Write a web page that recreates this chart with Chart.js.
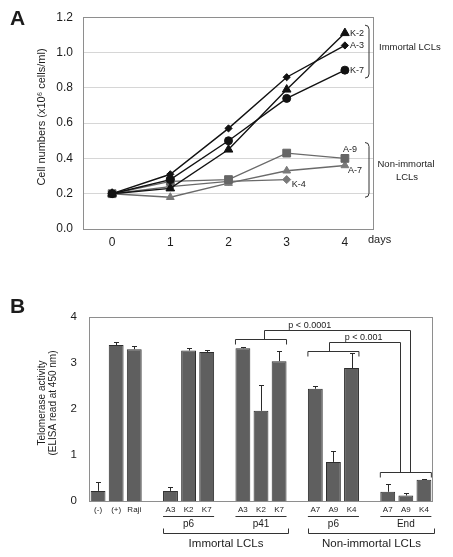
<!DOCTYPE html>
<html><head><meta charset="utf-8">
<script src="https://cdn.jsdelivr.net/npm/chart.js@4.4.0/dist/chart.umd.min.js"></script>
<style>
html,body{margin:0;padding:0;background:#fff;}
#wrap{position:relative;width:453px;height:557px;overflow:hidden;background:#fff;}
canvas{position:absolute;left:0;}
#ca{top:0;}
#cb{top:270px;}
</style></head><body>
<div id="wrap"><canvas id="ca" width="453" height="265"></canvas><canvas id="cb" width="453" height="287"></canvas></div>
<script>
// ---------- Panel A data ----------
const days = ['0', '1', '2', '3', '4'];
const seriesNames = ['K-2', 'A-3', 'K-7', 'A-9', 'A-7', 'K-4'];
const k2 = [0.20, 0.23, 0.45, 0.79, 1.11];
const a3 = [0.20, 0.31, 0.57, 0.86, 1.04];
const k7 = [0.20, 0.28, 0.50, 0.74, 0.90];
const a9 = [0.20, 0.27, 0.28, 0.43, 0.40];
const a7 = [0.20, 0.18, 0.26, 0.33, 0.36];
const k4 = [0.20, 0.24, 0.27, 0.28, null];
const groupNamesA = ['Immortal LCLs', 'Non-immortal LCLs'];
const groupRangeImmortalA = [0.855, 1.155];
const groupRangeNonImmortalA = [0.18, 0.49];

// ---------- Panel B data ----------
const sampleLabels = ['(-)', '(+)', 'Raji', '', 'A3', 'K2', 'K7', '', 'A3', 'K2', 'K7', '', 'A7', 'A9', 'K4', '', 'A7', 'A9', 'K4'];
const telomerase = [0.22, 3.39, 3.30, null, 0.22, 3.27, 3.24, null, 3.32, 1.96, 3.04, null, 2.44, 0.85, 2.89, null, 0.20, 0.12, 0.46];
const telomeraseErr = [0.19, 0.07, 0.07, null, 0.09, 0.06, 0.04, null, 0.03, 0.56, 0.23, null, 0.07, 0.24, 0.33, null, 0.16, 0.05, 0.02];
const subGroupNames = ['p6', 'p41', 'p6', 'End'];
const subGroupIdx = [[4, 6], [8, 10], [12, 14], [16, 18]];
const majorGroupNames = ['Immortal LCLs', 'Non-immortal LCLs'];
const majorGroupIdx = [[4, 10], [12, 18]];
const pTexts = ['p < 0.0001', 'p < 0.001'];
const pBracketLevels = [3.52, 3.26];   // bracket heights over compared groups
const pStemTops = [3.72, 3.46];
const endBracketLevel = 0.62;

const FONT = '"Liberation Sans", Arial, Helvetica, sans-serif';
const TXT = '#1c1c1c';

// ---------------- Chart A ----------------
const black = '#121212', gray = '#6a6a6a', grayPt = '#7a7a7a';
const labelOffsets = {'K-2': [5, 0], 'A-3': [5, 0], 'K-7': [5, 0], 'A-9': [-2, -9], 'A-7': [3, 5], 'K-4': [5, 5]};

const pluginA = {
  id: 'annA',
  beforeDatasetsDraw(chart) {
    const {ctx, chartArea: a} = chart;
    ctx.save();
    ctx.strokeStyle = '#8e8e8e';
    ctx.lineWidth = 1;
    ctx.strokeRect(Math.round(a.left) + 0.5, Math.round(a.top) + 0.5, Math.round(a.right - a.left) - 1, Math.round(a.bottom - a.top));
    ctx.restore();
  },
  afterDraw(chart) {
    const {ctx, chartArea: a, scales} = chart;
    const y = scales.y;
    ctx.save();
    ctx.fillStyle = TXT;
    // panel letter
    ctx.font = 'bold 21px ' + FONT;
    ctx.textBaseline = 'alphabetic';
    ctx.textAlign = 'left';
    ctx.fillText('A', 10, 25);
    // y title
    ctx.save();
    ctx.translate(42, 117);
    ctx.rotate(-Math.PI / 2);
    ctx.font = '11px ' + FONT;
    ctx.textAlign = 'center';
    ctx.textBaseline = 'middle';
    ctx.fillText('Cell numbers (x10\u2076 cells/ml)', 0, 0);
    ctx.restore();
    // days
    ctx.font = '11px ' + FONT;
    ctx.textAlign = 'left';
    ctx.textBaseline = 'middle';
    ctx.fillText('days', a.right - 6, 240);
    // point labels
    ctx.font = '9px ' + FONT;
    chart.data.datasets.forEach((ds, i) => {
      const meta = chart.getDatasetMeta(i);
      let idx = ds.data.length - 1;
      while (idx >= 0 && ds.data[idx] == null) idx--;
      const el = meta.data[idx];
      const off = labelOffsets[ds.label];
      ctx.textAlign = 'left';
      ctx.textBaseline = 'middle';
      ctx.fillText(ds.label, el.x + off[0], el.y + off[1]);
    });
    // brackets
    const bx = a.right - 5;
    const drawBr = (r) => {
      const t = y.getPixelForValue(r[1]), b = y.getPixelForValue(r[0]);
      ctx.beginPath();
      ctx.moveTo(bx - 4, t);
      ctx.quadraticCurveTo(bx, t, bx, t + 4);
      ctx.lineTo(bx, b - 4);
      ctx.quadraticCurveTo(bx, b, bx - 4, b);
      ctx.strokeStyle = '#333';
      ctx.lineWidth = 1;
      ctx.stroke();
      return (t + b) / 2;
    };
    const c1 = drawBr(groupRangeImmortalA);
    const c2 = drawBr(groupRangeNonImmortalA);
    ctx.font = '9.5px ' + FONT;
    ctx.textAlign = 'left';
    ctx.fillText(groupNamesA[0], a.right + 5, c1 - 4);
    ctx.textAlign = 'center';
    const parts = ['Non-immortal', 'LCLs'];
    ctx.fillText(parts[0], a.right + 32, c2 - 5.5);
    ctx.fillText(parts[1], a.right + 33, c2 + 8);
    ctx.restore();
  }
};

function lineDs(label, data, color, ptColor, style, r) {
  return {label, data, borderColor: color, backgroundColor: ptColor, pointBackgroundColor: ptColor,
    pointBorderColor: ptColor, pointStyle: style, pointRadius: r, pointBorderWidth: 1,
    borderWidth: 1.4, tension: 0, spanGaps: false};
}

new Chart(document.getElementById('ca'), {
  type: 'line',
  data: {
    labels: days,
    datasets: [
      lineDs(seriesNames[0], k2, black, black, 'triangle', 5),
      lineDs(seriesNames[1], a3, black, black, 'rectRot', 3.6),
      lineDs(seriesNames[2], k7, black, black, 'circle', 4),
      lineDs(seriesNames[3], a9, gray, '#666', 'rect', 5.5),
      lineDs(seriesNames[4], a7, gray, grayPt, 'triangle', 4.5),
      lineDs(seriesNames[5], k4, gray, grayPt, 'rectRot', 4)
    ]
  },
  options: {
    responsive: false, animation: false, devicePixelRatio: 1,
    layout: {padding: {left: 0, right: 79, top: 17, bottom: 6}},
    plugins: {legend: {display: false}, tooltip: {enabled: false}},
    scales: {
      x: {
        type: 'category', offset: true,
        grid: {display: false, drawTicks: false},
        border: {display: false},
        ticks: {color: TXT, font: {family: FONT, size: 12}, padding: 6, maxRotation: 0},
        afterFit: s => { s.height = 30; }
      },
      y: {
        min: 0, max: 1.2,
        ticks: {stepSize: 0.2, color: TXT, font: {family: FONT, size: 12}, padding: 10,
          callback: v => Number(v).toFixed(1)},
        grid: {color: '#d6d6d6', drawTicks: false, lineWidth: 1},
        border: {display: false},
        afterFit: s => { s.width = 83; }
      }
    }
  },
  plugins: [pluginA]
});

// ---------------- Chart B ----------------
const pluginB = {
  id: 'annB',
  afterDatasetsDraw(chart) {
    const {ctx, chartArea: a, scales} = chart;
    const x = scales.x, y = scales.y;
    const meta = chart.getDatasetMeta(0);
    const halfW = i => meta.data[i].width / 2;
    ctx.save();
    // box
    ctx.strokeStyle = '#8e8e8e';
    ctx.lineWidth = 1;
    ctx.strokeRect(Math.round(a.left) + 0.5, Math.round(a.top) + 0.5, Math.round(a.right - a.left) - 1, Math.round(a.bottom - a.top));
    // error bars
    ctx.strokeStyle = '#2a2a2a';
    telomerase.forEach((v, i) => {
      if (v == null || telomeraseErr[i] == null) return;
      const cx = Math.round(x.getPixelForValue(i)) + 0.5;
      const y0 = y.getPixelForValue(v);
      const y1 = Math.round(y.getPixelForValue(v + telomeraseErr[i])) + 0.5;
      ctx.beginPath();
      ctx.moveTo(cx, y0);
      ctx.lineTo(cx, y1);
      ctx.moveTo(cx - 2.5, y1);
      ctx.lineTo(cx + 2.5, y1);
      ctx.stroke();
    });
    // significance brackets
    ctx.strokeStyle = '#333';
    const groupBracket = (rng, level) => {
      const l = x.getPixelForValue(rng[0]) - halfW(rng[0]);
      const r = x.getPixelForValue(rng[1]) + halfW(rng[1]);
      const py = Math.round(y.getPixelForValue(level)) + 0.5;
      ctx.beginPath();
      ctx.moveTo(l, py + 5); ctx.lineTo(l, py); ctx.lineTo(r, py); ctx.lineTo(r, py + 5);
      ctx.stroke();
      return {c: (l + r) / 2, py};
    };
    const endG = groupBracket(subGroupIdx[3], endBracketLevel);
    const fromGroups = [subGroupIdx[1], subGroupIdx[2]];
    const drops = [endG.c + 4, endG.c - 6];
    const textFrac = [0.31, 0.48];
    fromGroups.forEach((g, k) => {
      const gb = groupBracket(g, pBracketLevels[k]);
      const sx = Math.round(gb.c + (k === 0 ? 3 : -4)) + 0.5;
      const ty = Math.round(y.getPixelForValue(pStemTops[k])) + 0.5;
      const dx = Math.round(drops[k]) + 0.5;
      ctx.beginPath();
      ctx.moveTo(sx, gb.py); ctx.lineTo(sx, ty); ctx.lineTo(dx, ty); ctx.lineTo(dx, endG.py);
      ctx.stroke();
      ctx.fillStyle = TXT;
      ctx.font = '9px ' + FONT;
      ctx.textAlign = 'center';
      ctx.textBaseline = 'alphabetic';
      ctx.fillText(pTexts[k], sx + (dx - sx) * textFrac[k], ty - 3);
    });
    ctx.restore();
  },
  afterDraw(chart) {
    const {ctx, chartArea: a, scales} = chart;
    const x = scales.x;
    const meta = chart.getDatasetMeta(0);
    const halfW = i => meta.data[i].width / 2;
    ctx.save();
    ctx.fillStyle = TXT;
    ctx.strokeStyle = '#333';
    ctx.lineWidth = 1;
    ctx.font = 'bold 21px ' + FONT;
    ctx.textAlign = 'left';
    ctx.textBaseline = 'alphabetic';
    ctx.fillText('B', 10, 43);
    // y title (two lines)
    ctx.save();
    ctx.translate(0, 133);
    ctx.rotate(-Math.PI / 2);
    ctx.font = '10px ' + FONT;
    ctx.textAlign = 'center';
    ctx.textBaseline = 'middle';
    ctx.fillText('Telomerase activity', 0, 42);
    ctx.fillText('(ELISA read at 450 nm)', 0, 53);
    ctx.restore();
    // sub groups
    const lineY = 246.5, subTextY = 254, majY = 263.5, majTextY = 274;
    ctx.textAlign = 'center';
    ctx.textBaseline = 'middle';
    subGroupIdx.forEach((g, k) => {
      const l = x.getPixelForValue(g[0]) - halfW(g[0]);
      const r = x.getPixelForValue(g[1]) + halfW(g[1]);
      ctx.beginPath(); ctx.moveTo(l, lineY); ctx.lineTo(r, lineY); ctx.stroke();
      ctx.font = '10px ' + FONT;
      ctx.fillText(subGroupNames[k], (l + r) / 2, subTextY);
    });
    majorGroupIdx.forEach((g, k) => {
      const l = Math.round(x.getPixelForValue(g[0]) - halfW(g[0])) + 0.5;
      const r = Math.round(x.getPixelForValue(g[1]) + halfW(g[1]) + (k === 1 ? 3 : 1)) + 0.5;
      ctx.beginPath();
      ctx.moveTo(l, majY - 5); ctx.lineTo(l, majY); ctx.lineTo(r, majY); ctx.lineTo(r, majY - 5);
      ctx.stroke();
      ctx.font = '11.5px ' + FONT;
      ctx.fillText(majorGroupNames[k], (l + r) / 2, majTextY);
    });
    ctx.restore();
  }
};

new Chart(document.getElementById('cb'), {
  type: 'bar',
  data: {
    labels: sampleLabels,
    datasets: [{
      label: 'Telomerase activity',
      data: telomerase,
      backgroundColor: '#5f5f5f',
      borderColor: '#2e2e2e',
      borderWidth: 1,
      barPercentage: 0.82,
      categoryPercentage: 1
    }]
  },
  options: {
    responsive: false, animation: false, devicePixelRatio: 1,
    layout: {padding: {left: 0, right: 20, top: 47, bottom: 0}},
    plugins: {legend: {display: false}, tooltip: {enabled: false}},
    scales: {
      x: {
        grid: {display: false, drawTicks: false},
        border: {display: false},
        ticks: {color: TXT, font: {family: FONT, size: 8}, padding: 4, maxRotation: 0, autoSkip: false},
        afterFit: s => { s.height = 56; }
      },
      y: {
        min: 0, max: 4,
        ticks: {stepSize: 1, color: TXT, font: {family: FONT, size: 11.5}, padding: 12},
        grid: {display: false, drawTicks: false},
        border: {display: false},
        afterFit: s => { s.width = 89; }
      }
    }
  },
  plugins: [pluginB]
});
</script>
</body></html>
